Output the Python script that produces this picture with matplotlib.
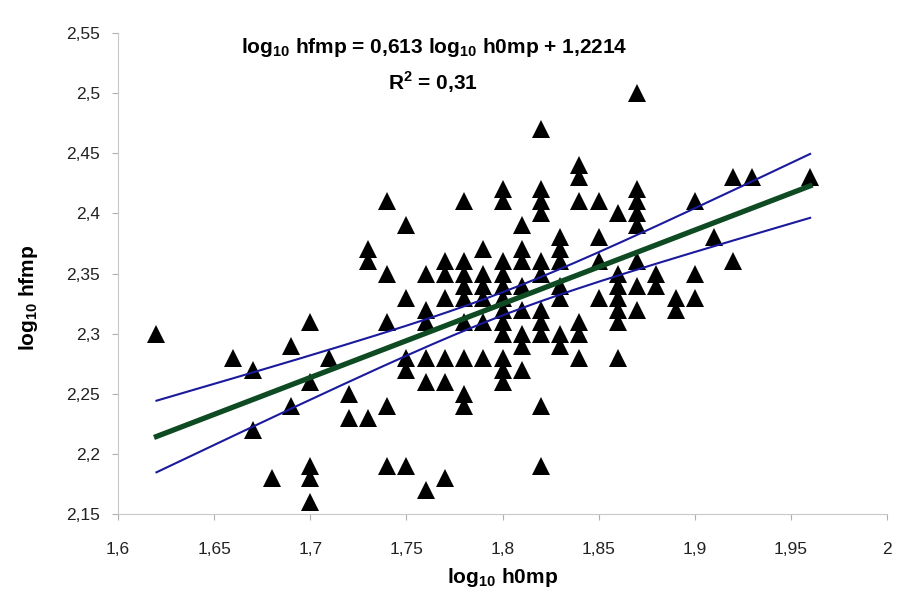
import numpy as np
import matplotlib
matplotlib.use("Agg")
import matplotlib.pyplot as plt
from matplotlib.ticker import FuncFormatter

plt.rcParams['font.family'] = ['Liberation Sans', 'DejaVu Sans']
plt.rcParams['mathtext.fontset'] = 'custom'
plt.rcParams['mathtext.rm'] = 'Liberation Sans'
plt.rcParams['mathtext.bf'] = 'Liberation Sans:bold'

# log10 h0mp columns and the log10 hfmp values found in each column
col_x = [1.62, 1.66, 1.67, 1.68, 1.69, 1.70, 1.71, 1.72, 1.73, 1.74, 1.75, 1.76,
         1.77, 1.78, 1.79, 1.80, 1.81, 1.82, 1.83, 1.84, 1.85, 1.86, 1.87, 1.88,
         1.89, 1.90, 1.91, 1.92, 1.93, 1.96]
col_y = [
    [2.30],
    [2.28],
    [2.27, 2.22],
    [2.18],
    [2.29, 2.24],
    [2.31, 2.26, 2.19, 2.18, 2.16],
    [2.28],
    [2.25, 2.23],
    [2.37, 2.36, 2.23],
    [2.41, 2.35, 2.31, 2.24, 2.19],
    [2.39, 2.33, 2.28, 2.27, 2.19],
    [2.35, 2.32, 2.31, 2.28, 2.26, 2.17],
    [2.36, 2.35, 2.33, 2.28, 2.26, 2.18],
    [2.41, 2.36, 2.35, 2.34, 2.33, 2.31, 2.28, 2.25, 2.24],
    [2.37, 2.35, 2.34, 2.33, 2.31, 2.28],
    [2.42, 2.41, 2.36, 2.35, 2.34, 2.33, 2.32, 2.31, 2.30, 2.28, 2.27, 2.26],
    [2.39, 2.37, 2.36, 2.34, 2.32, 2.30, 2.29, 2.27],
    [2.47, 2.42, 2.41, 2.40, 2.36, 2.35, 2.32, 2.31, 2.30, 2.24, 2.19],
    [2.38, 2.37, 2.36, 2.34, 2.33, 2.30, 2.29],
    [2.44, 2.43, 2.41, 2.31, 2.30, 2.28],
    [2.41, 2.38, 2.36, 2.33],
    [2.40, 2.35, 2.34, 2.33, 2.32, 2.31, 2.28],
    [2.50, 2.42, 2.41, 2.40, 2.39, 2.36, 2.34, 2.32],
    [2.35, 2.34],
    [2.33, 2.32],
    [2.41, 2.35, 2.33],
    [2.38],
    [2.43, 2.36],
    [2.43],
    [2.43],
]

slope = 0.613
intercept = 1.2214
r2_text = "0,31"

x = np.concatenate([[cx] * len(cy) for cx, cy in zip(col_x, col_y)])
y = np.concatenate(col_y)

# regression line and 95% confidence band of the mean
n = len(x)
xs = np.linspace(x.min(), x.max(), 200)
fit = slope * xs + intercept
resid = y - (slope * x + intercept)
s = np.sqrt(np.sum(resid ** 2) / (n - 2))
sxx = np.sum((x - x.mean()) ** 2)
half = 1.976 * s * np.sqrt(1.0 / n + (xs - x.mean()) ** 2 / sxx)

fig = plt.figure(figsize=(9.03, 5.95), dpi=100)
ax = fig.add_axes([0.1307, 0.1361, 0.8516, 0.8084])

ax.plot(x, y, '^', color='black', markersize=13.5, markeredgewidth=0, zorder=3)
ax.plot(xs, fit + half, color='#1a1a9c', lw=1.5, zorder=4)
ax.plot(xs, fit - half, color='#1a1a9c', lw=1.5, zorder=4)
ax.plot(xs, fit, color='#0e4a22', lw=3.8, zorder=4)

ax.set_xlim(1.6, 2.0)
ax.set_ylim(2.15, 2.55)
ax.set_xticks(np.arange(1.6, 2.001, 0.05))
ax.set_yticks(np.arange(2.15, 2.551, 0.05))


def comma(v, pos):
    t = ('%.2f' % v).rstrip('0').rstrip('.')
    return t.replace('.', ',')


ax.xaxis.set_major_formatter(FuncFormatter(comma))
ax.yaxis.set_major_formatter(FuncFormatter(comma))

for side in ['top', 'right']:
    ax.spines[side].set_visible(False)
for side in ['left', 'bottom']:
    ax.spines[side].set_color('#c8c8c8')
    ax.spines[side].set_linewidth(0.8)
ax.tick_params(colors='#b0b0b0', labelcolor='#222222', labelsize=12.5,
               length=4, width=0.8)
ax.tick_params(axis='x', pad=16)
ax.tick_params(axis='y', pad=9)

ax.set_xlabel(r"log$_{\mathbf{10}}$ h0mp", fontsize=15, fontweight='bold')
ax.set_ylabel(r"log$_{\mathbf{10}}$ hfmp", fontsize=15, fontweight='bold')
ax.xaxis.set_label_coords(0.5, -0.108)
ax.yaxis.set_label_coords(-0.102, 0.45)

ax.text(0.4116, 0.969,
        r"log$_{\mathbf{10}}$ hfmp = 0,613 log$_{\mathbf{10}}$ h0mp + 1,2214",
        transform=ax.transAxes, ha='center', va='center', fontsize=15,
        fontweight='bold')
ax.text(0.41, 0.898, r"R$^{\mathbf{2}}$ = " + r2_text, transform=ax.transAxes,
        ha='center', va='center', fontsize=15, fontweight='bold')

fig.savefig("out.png", dpi=100)
